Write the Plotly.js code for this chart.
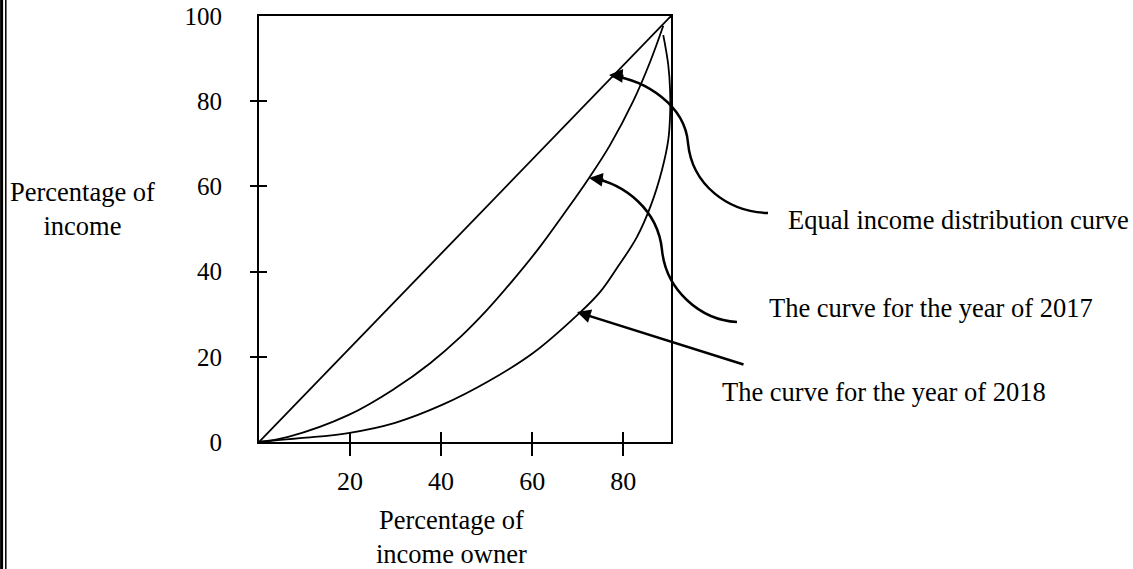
<!DOCTYPE html>
<html>
<head>
<meta charset="utf-8">
<script src="https://cdn.plot.ly/plotly-3.0.1.min.js"></script>
<style>
  html, body { margin: 0; padding: 0; background: #ffffff; }
  #chart { width: 1133px; height: 569px; }
</style>
</head>
<body>
<div id="chart"></div>
<script>
// ---- data ----
const xTickVals = [20, 40, 60, 80];
const xTickText = ["20", "40", "60", "80"];
const yTickVals = [0, 20, 40, 60, 80, 100];
const yTickText = ["0", "20", "40", "60", "80", "100"];
const yMarkVals = [20, 40, 60, 80];

const equalX = [0, 90.5];
const equalY = [0, 100];

const x2017 = [0, 6.4, 19.6, 29.9, 37.6, 44.2, 50.1, 55.8, 61.7, 66.8, 72.5, 77.1, 82.2, 85.9, 88.8];
const y2017 = [0, 1.2, 6.3, 12.6, 18.5, 24.6, 31.0, 38.0, 45.8, 53.3, 62.0, 69.7, 80.0, 89.2, 97.7];

const x2018 = [0, 9.0, 19.6, 29.9, 40.2, 50.3, 60.2, 69.9, 74.9, 78.6, 83.0, 86.1, 88.5, 89.9, 90.3, 90.3, 89.9, 88.8];
const y2018 = [0, 0.9, 2.1, 4.5, 8.7, 14.2, 20.9, 29.8, 35.2, 40.8, 48.1, 55.6, 63.8, 70.9, 76.8, 82.6, 88.5, 95.5];

const labelEqual = "Equal income distribution curve";
const label2017 = "The curve for the year of 2017";
const label2018 = "The curve for the year of 2018";
const yTitle = "Percentage of<br>income";
const xTitle = "Percentage of<br>income owner";

// ---- layout geometry ----
const W = 1133, H = 569;
const M = { l: 259, r: 462, t: 16, b: 127 };
const PL = M.l, PR = W - M.r, PT = M.t, PB = H - M.b;
const fx = p => (p - PL) / (PR - PL);
const fy = p => (PB - p) / (PB - PT);
const P = (x, y) => fx(x).toFixed(5) + "," + fy(y).toFixed(5);

const FONT = "Liberation Serif, Times New Roman, serif";

const lineStyle = { color: "#000", width: 1.8, shape: "spline", smoothing: 1.1 };
const traces = [
  { x: equalX, y: equalY, mode: "lines", line: { color: "#000", width: 1.8 }, hoverinfo: "skip", showlegend: false },
  { x: x2017, y: y2017, mode: "lines", line: lineStyle, hoverinfo: "skip", showlegend: false },
  { x: x2018, y: y2018, mode: "lines", line: lineStyle, hoverinfo: "skip", showlegend: false },
  // invisible helpers so the overlay axes (crossing tick marks) are drawn
  { x: equalX, y: equalY, xaxis: "x2", yaxis: "y", mode: "lines", line: { width: 0, color: "rgba(0,0,0,0)" }, hoverinfo: "skip", showlegend: false },
  { x: equalX, y: equalY, xaxis: "x", yaxis: "y2", mode: "lines", line: { width: 0, color: "rgba(0,0,0,0)" }, hoverinfo: "skip", showlegend: false },
  { x: equalX, y: equalY, xaxis: "x", yaxis: "y3", mode: "lines", line: { width: 0, color: "rgba(0,0,0,0)" }, hoverinfo: "skip", showlegend: false }
];

const baseAxis = { showgrid: false, zeroline: false, fixedrange: true, tickcolor: "#000", tickwidth: 2 };

const layout = {
  width: W, height: H,
  margin: M,
  paper_bgcolor: "#fff", plot_bgcolor: "#fff",
  showlegend: false,
  hovermode: false,
  font: { family: FONT, color: "#000" },
  xaxis: Object.assign({}, baseAxis, {
    range: [0, 90.5], tickmode: "array", tickvals: xTickVals, ticktext: xTickText,
    ticks: "outside", ticklen: 12, showline: true, mirror: true, linecolor: "#000", linewidth: 2,
    tickfont: { family: FONT, size: 26, color: "#000" }, ticklabelstandoff: 3
  }),
  xaxis2: Object.assign({}, baseAxis, {
    range: [0, 90.5], overlaying: "x", anchor: "y", side: "bottom", tickmode: "array", tickvals: xTickVals,
    ticks: "inside", ticklen: 10, showticklabels: false, showline: false
  }),
  yaxis: Object.assign({}, baseAxis, {
    range: [0, 100], tickmode: "array", tickvals: yTickVals, ticktext: yTickText,
    ticks: "", showline: true, mirror: true, linecolor: "#000", linewidth: 2,
    tickfont: { family: FONT, size: 25, color: "#000" }, ticklabelstandoff: 30
  }),
  yaxis2: Object.assign({}, baseAxis, {
    range: [0, 100], overlaying: "y", anchor: "x", side: "left", tickmode: "array", tickvals: yMarkVals,
    ticks: "outside", ticklen: 8, showticklabels: false, showline: false
  }),
  yaxis3: Object.assign({}, baseAxis, {
    range: [0, 100], overlaying: "y", anchor: "x", side: "left", tickmode: "array", tickvals: yMarkVals,
    ticks: "inside", ticklen: 8, showticklabels: false, showline: false
  }),
  shapes: [
    // page border (double line at left edge)
    { type: "line", xref: "paper", yref: "paper", x0: fx(1.6), x1: fx(1.6), y0: fy(0), y1: fy(H), line: { color: "#000", width: 3 } },
    { type: "line", xref: "paper", yref: "paper", x0: fx(5.8), x1: fx(5.8), y0: fy(0), y1: fy(H), line: { color: "#000", width: 1.5 } },
    // curved pointers
    { type: "path", xref: "paper", yref: "paper", layer: "above",
      path: "M " + P(612, 76) + " C " + P(645, 80) + " " + P(685, 105) + " " + P(688, 143) + " C " + P(692, 185) + " " + P(728, 212) + " " + P(768, 213),
      line: { color: "#000", width: 2.5 } },
    { type: "path", xref: "paper", yref: "paper", layer: "above",
      path: "M " + P(592, 178) + " C " + P(625, 184) + " " + P(658, 210) + " " + P(662, 250) + " C " + P(666, 290) + " " + P(700, 320) + " " + P(737, 322),
      line: { color: "#000", width: 2.5 } }
  ],
  annotations: [
    // arrow heads on the curved pointers
    { xref: "paper", yref: "paper", x: fx(609), y: fy(75), ax: 16, ay: 1, text: "", showarrow: true,
      arrowhead: 2, arrowsize: 1.1, arrowwidth: 2.5, arrowcolor: "#000" },
    { xref: "paper", yref: "paper", x: fx(589), y: fy(178), ax: 16, ay: 2, text: "", showarrow: true,
      arrowhead: 2, arrowsize: 1.1, arrowwidth: 2.5, arrowcolor: "#000" },
    // straight pointer for 2018
    { xref: "paper", yref: "paper", x: fx(577), y: fy(312), ax: 168, ay: 53, text: "", showarrow: true,
      arrowhead: 2, arrowsize: 1.1, arrowwidth: 2.5, arrowcolor: "#000" },
    // labels
    { xref: "paper", yref: "paper", x: fx(786), y: fy(220), xanchor: "left", yanchor: "middle", showarrow: false,
      text: labelEqual, font: { family: FONT, size: 26.5, color: "#000" } },
    { xref: "paper", yref: "paper", x: fx(767), y: fy(308), xanchor: "left", yanchor: "middle", showarrow: false,
      text: label2017, font: { family: FONT, size: 26.5, color: "#000" } },
    { xref: "paper", yref: "paper", x: fx(720), y: fy(392), xanchor: "left", yanchor: "middle", showarrow: false,
      text: label2018, font: { family: FONT, size: 26.5, color: "#000" } },
    // axis titles
    { xref: "paper", yref: "paper", x: fx(82), y: fy(209), xanchor: "center", yanchor: "middle", showarrow: false, align: "center",
      text: yTitle, font: { family: FONT, size: 26.5, color: "#000" } },
    { xref: "paper", yref: "paper", x: fx(451), y: fy(537), xanchor: "center", yanchor: "middle", showarrow: false, align: "center",
      text: xTitle, font: { family: FONT, size: 26.5, color: "#000" } }
  ]
};

Plotly.newPlot("chart", traces, layout, { staticPlot: true, displayModeBar: false });
</script>
</body>
</html>
